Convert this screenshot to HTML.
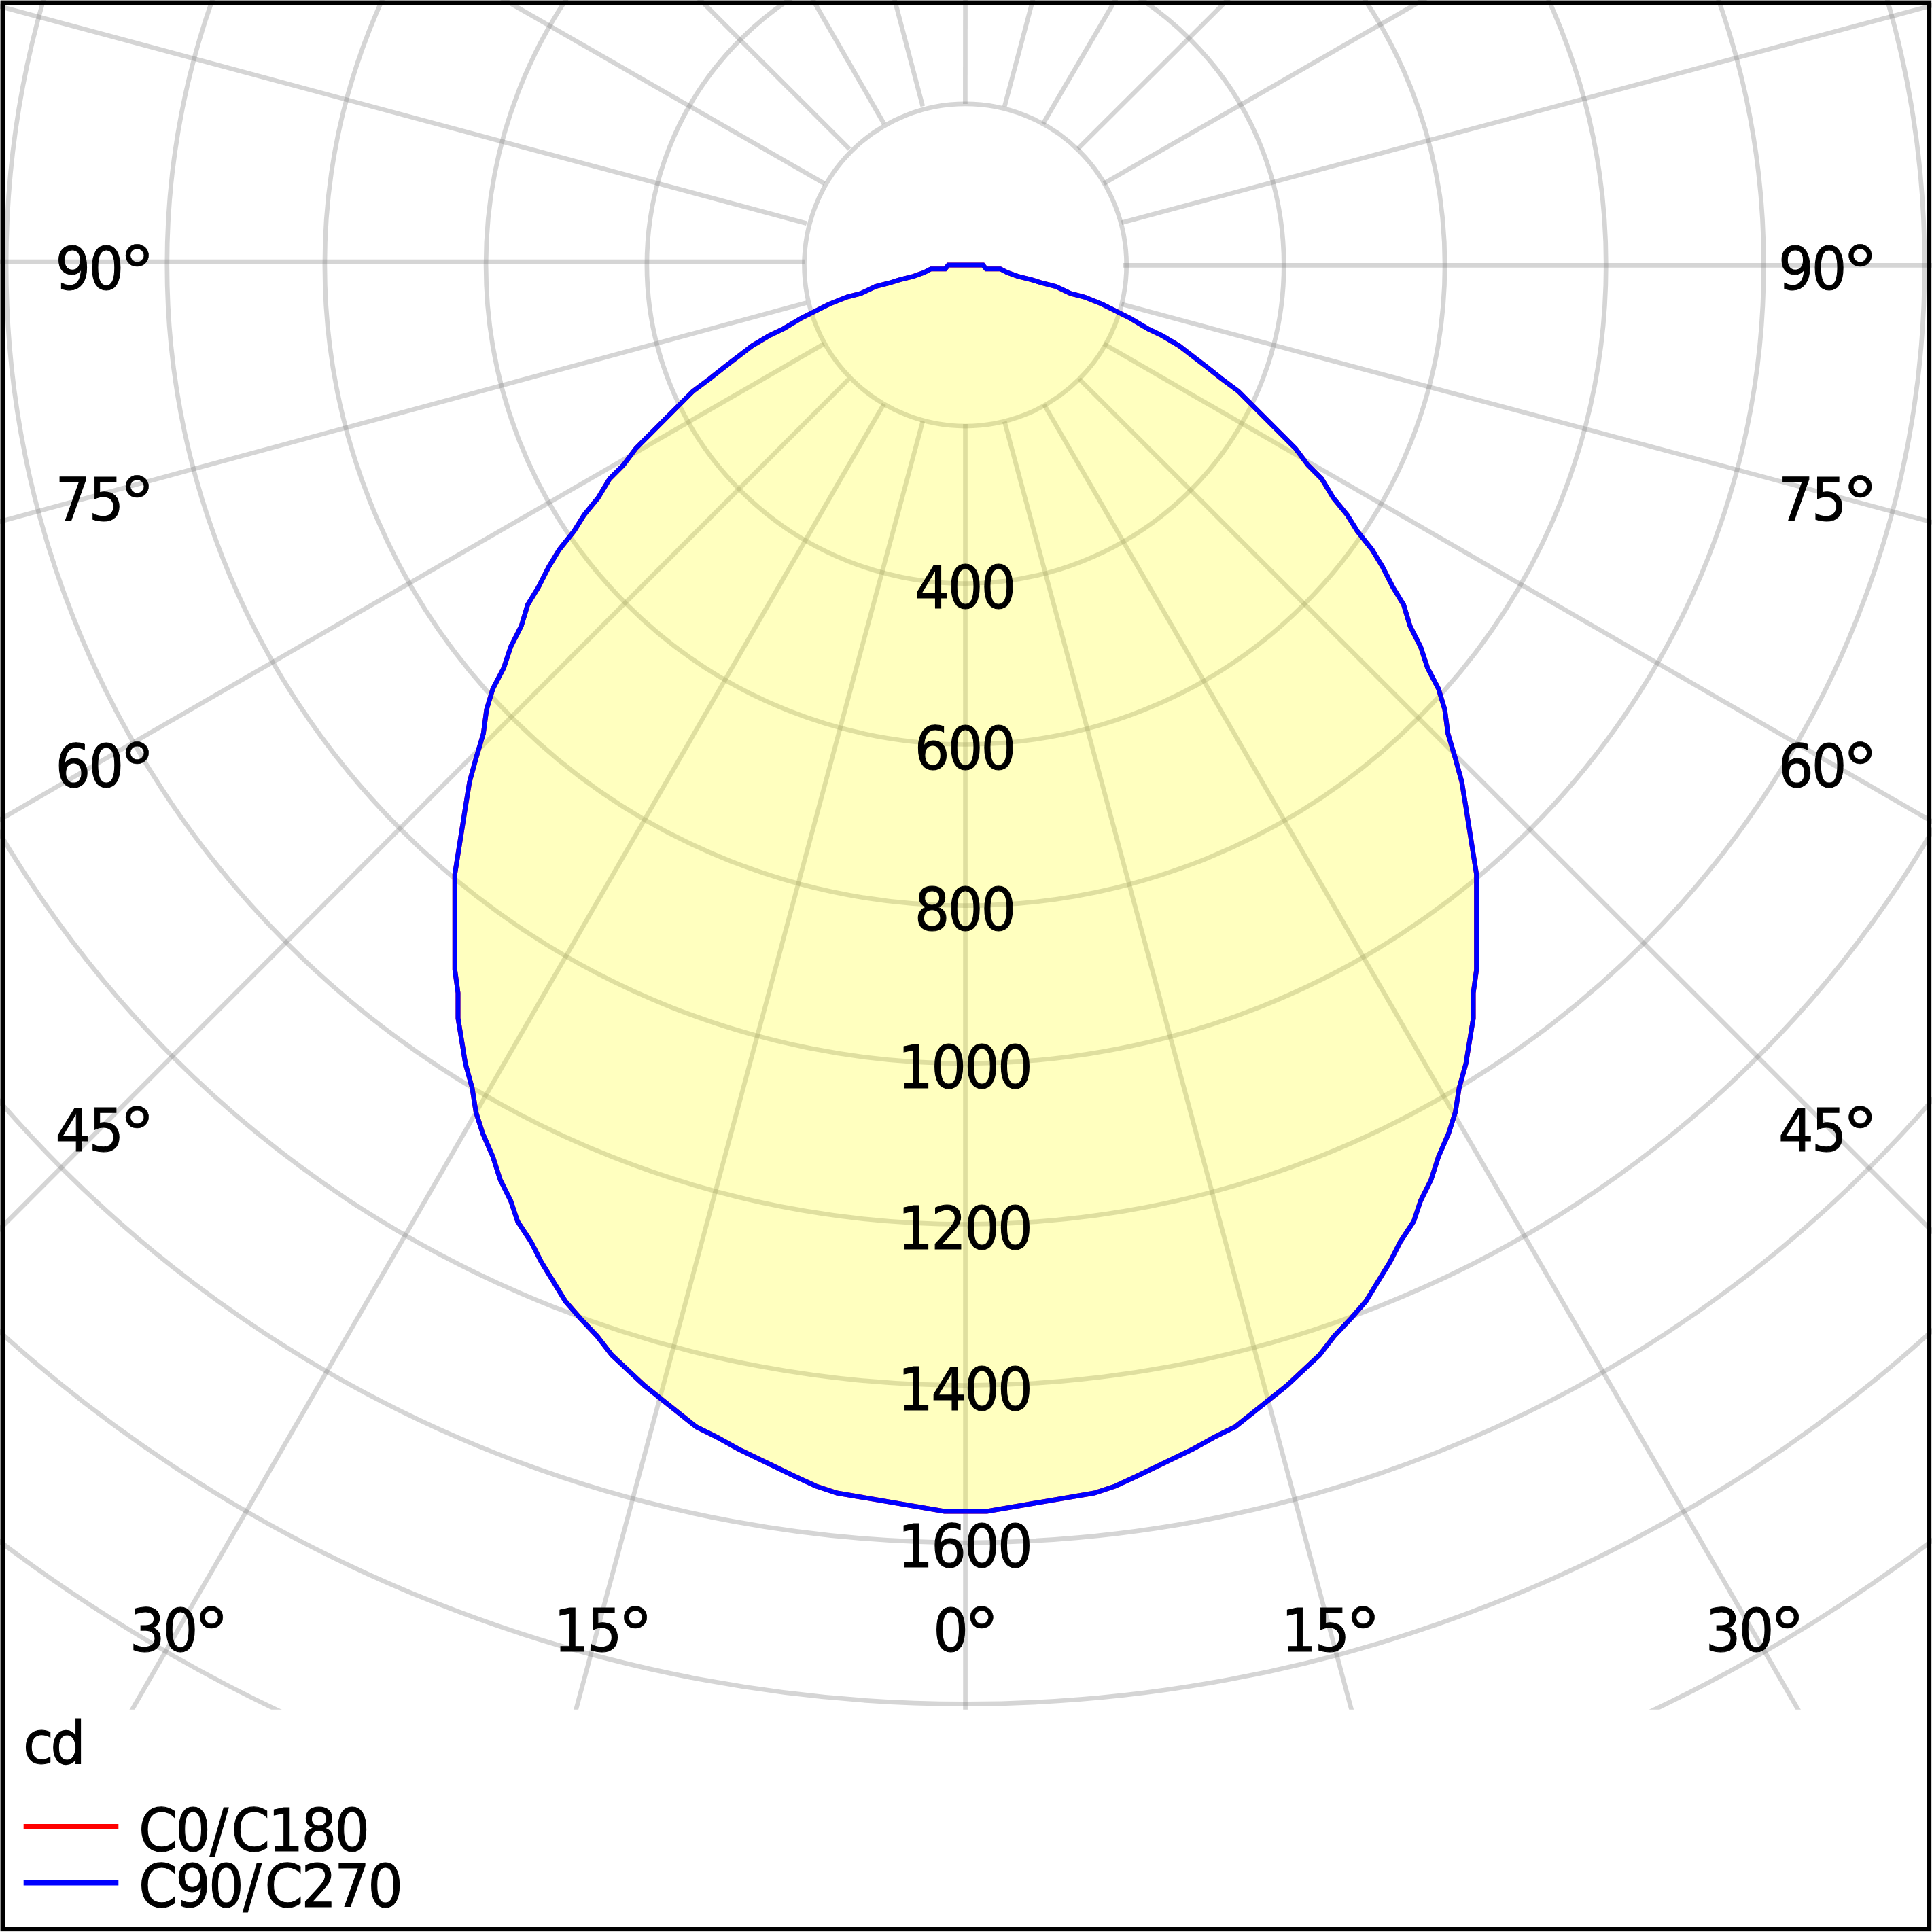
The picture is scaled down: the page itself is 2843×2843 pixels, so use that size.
<!DOCTYPE html>
<html lang="en"><head><meta charset="utf-8"><title>Polar luminous intensity diagram</title>
<style>html,body{margin:0;padding:0;background:#fff}svg{display:block}text{font-family:"DejaVu Sans Condensed","DejaVu Sans","Liberation Sans",sans-serif;font-stretch:condensed;font-size:87.6px;fill:#000;stroke:#000;stroke-width:1.1px}.d{font-family:"DejaVu Sans","Liberation Sans",sans-serif;font-stretch:normal;font-size:105.0px;stroke-width:0.5px}</style></head><body>
<svg width="2843" height="2843" viewBox="0 0 2843 2843">
<rect width="2843" height="2843" fill="#fff"/>
<defs><clipPath id="plot"><rect x="0" y="0" width="2843" height="2515.8"/></clipPath></defs>
<g clip-path="url(#plot)"><g fill="none" stroke="rgba(128,128,128,0.33)" stroke-width="6.7">
<circle cx="1420.6" cy="390.0" r="237.1"/>
<circle cx="1420.6" cy="390.0" r="468.7"/>
<circle cx="1420.6" cy="390.0" r="705.5"/>
<circle cx="1420.6" cy="390.0" r="942.7"/>
<circle cx="1420.6" cy="390.0" r="1174.8"/>
<circle cx="1420.6" cy="390.0" r="1411.5"/>
<circle cx="1420.6" cy="390.0" r="1648.6"/>
<circle cx="1420.6" cy="390.0" r="1880.0"/>
<circle cx="1420.6" cy="390.0" r="2117.4"/>
<circle cx="1420.6" cy="390.0" r="2355.2"/>
<circle cx="1420.6" cy="390.0" r="2590"/>
<line x1="1420.4" y1="152.9" x2="1422.6" y2="-2347.1"/>
<line x1="1478.2" y1="156.9" x2="2119.0" y2="-2259.6"/>
<line x1="1535.0" y1="182.0" x2="2795.4" y2="-1977.0"/>
<line x1="1586.1" y1="218.8" x2="3358.3" y2="-1544.5"/>
<line x1="1624.3" y1="270.0" x2="3791.6" y2="-976.2"/>
<line x1="1650.4" y1="327.8" x2="4065.2" y2="-319.5"/>
<line x1="1652.4" y1="390.4" x2="4152.4" y2="390.4"/>
<line x1="1650.4" y1="447.6" x2="4064.6" y2="1096.9"/>
<line x1="1624.3" y1="506.0" x2="3789.9" y2="1755.0"/>
<line x1="1588.0" y1="557.5" x2="3356.4" y2="2324.6"/>
<line x1="1536.3" y1="595.1" x2="2787.0" y2="2759.7"/>
<line x1="1478.2" y1="620.4" x2="2128.4" y2="3034.4"/>
<line x1="1420.5" y1="623.9" x2="1420.6" y2="3123.9"/>
<line x1="1357.8" y1="619.9" x2="708.1" y2="3034.0"/>
<line x1="1300.8" y1="594.3" x2="53.3" y2="2760.8"/>
<line x1="1248.8" y1="558.0" x2="-517.9" y2="2326.8"/>
<line x1="1212.5" y1="506.0" x2="-952.6" y2="1756.0"/>
<line x1="1186.9" y1="445.5" x2="-1225.9" y2="1100.0"/>
<line x1="1183.9" y1="385.2" x2="-1316.1" y2="385.2"/>
<line x1="1186.9" y1="328.7" x2="-1227.3" y2="-320.6"/>
<line x1="1213.0" y1="270.0" x2="-955.2" y2="-974.5"/>
<line x1="1250.2" y1="219.4" x2="-518.6" y2="-1547.4"/>
<line x1="1300.8" y1="182.0" x2="56.3" y2="-1986.3"/>
<line x1="1357.8" y1="156.4" x2="720.2" y2="-2260.9"/>
</g>
<polygon points="1446.6,390.1 1451.2,395.7 1472.0,395.7 1482.3,401.0 1497.8,406.6 1518.0,411.6 1533.5,416.5 1553.7,421.5 1575.5,432.0 1595.7,437.0 1622.0,447.6 1664.0,468.7 1688.8,483.6 1710.6,494.2 1735.4,509.0 1775.8,540.0 1797.5,557.2 1822.4,575.8 1906.2,659.7 1924.8,684.5 1945.0,704.7 1962.0,732.7 1982.3,757.5 1997.2,781.4 2019.0,808.7 2034.5,834.2 2050.0,864.6 2065.5,890.0 2074.8,921.0 2090.4,951.6 2100.6,982.6 2116.8,1013.7 2126.0,1044.0 2130.7,1079.5 2141.6,1116.0 2151.0,1150.3 2157.1,1187.6 2172.7,1286.5 2172.7,1427.0 2168.0,1461.2 2168.0,1498.4 2157.1,1565.2 2147.2,1601.0 2141.6,1636.6 2131.7,1667.7 2116.8,1701.9 2105.9,1736.0 2090.4,1767.1 2080.4,1797.2 2060.3,1827.8 2045.7,1856.5 2010.0,1914.9 1988.2,1939.8 1963.4,1966.1 1941.6,1994.1 1893.5,2039.1 1817.4,2099.7 1786.3,2115.2 1755.3,2132.3 1673.3,2172.0 1641.5,2186.7 1610.4,2197.0 1452.3,2223.9 1389.7,2223.9 1231.6,2197.0 1200.5,2186.7 1168.7,2172.0 1086.7,2132.3 1055.7,2115.2 1024.6,2099.7 948.5,2039.1 900.4,1994.1 878.6,1966.1 853.8,1939.8 832.0,1914.9 796.3,1856.5 781.7,1827.8 761.6,1797.2 751.6,1767.1 736.1,1736.0 725.2,1701.9 710.3,1667.7 700.4,1636.6 694.8,1601.0 684.9,1565.2 674.0,1498.4 674.0,1461.2 669.3,1427.0 669.3,1286.5 684.9,1187.6 691.0,1150.3 700.4,1116.0 711.3,1079.5 716.0,1044.0 725.2,1013.7 741.4,982.6 751.6,951.6 767.2,921.0 776.5,890.0 792.0,864.6 807.5,834.2 823.0,808.7 844.8,781.4 859.7,757.5 880.0,732.7 897.0,704.7 917.2,684.5 935.8,659.7 1019.6,575.8 1044.5,557.2 1066.2,540.0 1106.6,509.0 1131.4,494.2 1153.2,483.6 1178.0,468.7 1220.0,447.6 1246.3,437.0 1266.5,432.0 1288.3,421.5 1308.5,416.5 1324.0,411.6 1344.2,406.6 1359.7,401.0 1370.0,395.7 1390.8,395.7 1395.4,390.1" fill="rgba(255,255,0,0.25)"/>
<polygon points="1446.6,390.1 1451.2,395.7 1472.0,395.7 1482.3,401.0 1497.8,406.6 1518.0,411.6 1533.5,416.5 1553.7,421.5 1575.5,432.0 1595.7,437.0 1622.0,447.6 1664.0,468.7 1688.8,483.6 1710.6,494.2 1735.4,509.0 1775.8,540.0 1797.5,557.2 1822.4,575.8 1906.2,659.7 1924.8,684.5 1945.0,704.7 1962.0,732.7 1982.3,757.5 1997.2,781.4 2019.0,808.7 2034.5,834.2 2050.0,864.6 2065.5,890.0 2074.8,921.0 2090.4,951.6 2100.6,982.6 2116.8,1013.7 2126.0,1044.0 2130.7,1079.5 2141.6,1116.0 2151.0,1150.3 2157.1,1187.6 2172.7,1286.5 2172.7,1427.0 2168.0,1461.2 2168.0,1498.4 2157.1,1565.2 2147.2,1601.0 2141.6,1636.6 2131.7,1667.7 2116.8,1701.9 2105.9,1736.0 2090.4,1767.1 2080.4,1797.2 2060.3,1827.8 2045.7,1856.5 2010.0,1914.9 1988.2,1939.8 1963.4,1966.1 1941.6,1994.1 1893.5,2039.1 1817.4,2099.7 1786.3,2115.2 1755.3,2132.3 1673.3,2172.0 1641.5,2186.7 1610.4,2197.0 1452.3,2223.9 1389.7,2223.9 1231.6,2197.0 1200.5,2186.7 1168.7,2172.0 1086.7,2132.3 1055.7,2115.2 1024.6,2099.7 948.5,2039.1 900.4,1994.1 878.6,1966.1 853.8,1939.8 832.0,1914.9 796.3,1856.5 781.7,1827.8 761.6,1797.2 751.6,1767.1 736.1,1736.0 725.2,1701.9 710.3,1667.7 700.4,1636.6 694.8,1601.0 684.9,1565.2 674.0,1498.4 674.0,1461.2 669.3,1427.0 669.3,1286.5 684.9,1187.6 691.0,1150.3 700.4,1116.0 711.3,1079.5 716.0,1044.0 725.2,1013.7 741.4,982.6 751.6,951.6 767.2,921.0 776.5,890.0 792.0,864.6 807.5,834.2 823.0,808.7 844.8,781.4 859.7,757.5 880.0,732.7 897.0,704.7 917.2,684.5 935.8,659.7 1019.6,575.8 1044.5,557.2 1066.2,540.0 1106.6,509.0 1131.4,494.2 1153.2,483.6 1178.0,468.7 1220.0,447.6 1246.3,437.0 1266.5,432.0 1288.3,421.5 1308.5,416.5 1324.0,411.6 1344.2,406.6 1359.7,401.0 1370.0,395.7 1390.8,395.7 1395.4,390.1" fill="none" stroke="#f00" stroke-width="7" stroke-linejoin="miter"/>
<polygon points="1446.6,390.1 1451.2,395.7 1472.0,395.7 1482.3,401.0 1497.8,406.6 1518.0,411.6 1533.5,416.5 1553.7,421.5 1575.5,432.0 1595.7,437.0 1622.0,447.6 1664.0,468.7 1688.8,483.6 1710.6,494.2 1735.4,509.0 1775.8,540.0 1797.5,557.2 1822.4,575.8 1906.2,659.7 1924.8,684.5 1945.0,704.7 1962.0,732.7 1982.3,757.5 1997.2,781.4 2019.0,808.7 2034.5,834.2 2050.0,864.6 2065.5,890.0 2074.8,921.0 2090.4,951.6 2100.6,982.6 2116.8,1013.7 2126.0,1044.0 2130.7,1079.5 2141.6,1116.0 2151.0,1150.3 2157.1,1187.6 2172.7,1286.5 2172.7,1427.0 2168.0,1461.2 2168.0,1498.4 2157.1,1565.2 2147.2,1601.0 2141.6,1636.6 2131.7,1667.7 2116.8,1701.9 2105.9,1736.0 2090.4,1767.1 2080.4,1797.2 2060.3,1827.8 2045.7,1856.5 2010.0,1914.9 1988.2,1939.8 1963.4,1966.1 1941.6,1994.1 1893.5,2039.1 1817.4,2099.7 1786.3,2115.2 1755.3,2132.3 1673.3,2172.0 1641.5,2186.7 1610.4,2197.0 1452.3,2223.9 1389.7,2223.9 1231.6,2197.0 1200.5,2186.7 1168.7,2172.0 1086.7,2132.3 1055.7,2115.2 1024.6,2099.7 948.5,2039.1 900.4,1994.1 878.6,1966.1 853.8,1939.8 832.0,1914.9 796.3,1856.5 781.7,1827.8 761.6,1797.2 751.6,1767.1 736.1,1736.0 725.2,1701.9 710.3,1667.7 700.4,1636.6 694.8,1601.0 684.9,1565.2 674.0,1498.4 674.0,1461.2 669.3,1427.0 669.3,1286.5 684.9,1187.6 691.0,1150.3 700.4,1116.0 711.3,1079.5 716.0,1044.0 725.2,1013.7 741.4,982.6 751.6,951.6 767.2,921.0 776.5,890.0 792.0,864.6 807.5,834.2 823.0,808.7 844.8,781.4 859.7,757.5 880.0,732.7 897.0,704.7 917.2,684.5 935.8,659.7 1019.6,575.8 1044.5,557.2 1066.2,540.0 1106.6,509.0 1131.4,494.2 1153.2,483.6 1178.0,468.7 1220.0,447.6 1246.3,437.0 1266.5,432.0 1288.3,421.5 1308.5,416.5 1324.0,411.6 1344.2,406.6 1359.7,401.0 1370.0,395.7 1390.8,395.7 1395.4,390.1" fill="none" stroke="#00f" stroke-width="7" stroke-linejoin="miter"/>
</g>
<text transform="scale(1.033,1)" y="895.2" x="1302.8 1350.2 1397.5">400</text>
<text transform="scale(1.033,1)" y="1132.0" x="1302.8 1350.2 1397.5">600</text>
<text transform="scale(1.033,1)" y="1369.2" x="1302.8 1350.2 1397.5">800</text>
<text transform="scale(1.033,1)" y="1601.3" x="1279.1 1326.5 1373.8 1421.2">1000</text>
<text transform="scale(1.033,1)" y="1838.0" x="1279.1 1326.5 1373.8 1421.2">1200</text>
<text transform="scale(1.033,1)" y="2075.1" x="1279.1 1326.5 1373.8 1421.2">1400</text>
<text transform="scale(1.033,1)" y="2306.5" x="1279.1 1326.5 1373.8 1421.2">1600</text>
<text transform="scale(1.033,1)" y="426.3" x="79.0 126.3">90<tspan class="d" x="169.2" dy="12.0">°</tspan></text>
<text transform="scale(1.033,1)" y="426.3" x="2533.3 2580.6">90<tspan class="d" x="2623.6" dy="12.0">°</tspan></text>
<text transform="scale(1.033,1)" y="765.8" x="79.0 126.3">75<tspan class="d" x="169.2" dy="12.0">°</tspan></text>
<text transform="scale(1.033,1)" y="765.8" x="2533.3 2580.6">75<tspan class="d" x="2623.6" dy="12.0">°</tspan></text>
<text transform="scale(1.033,1)" y="1157.8" x="79.0 126.3">60<tspan class="d" x="169.2" dy="12.0">°</tspan></text>
<text transform="scale(1.033,1)" y="1157.8" x="2533.3 2580.6">60<tspan class="d" x="2623.6" dy="12.0">°</tspan></text>
<text transform="scale(1.033,1)" y="1693.6" x="79.0 126.3">45<tspan class="d" x="169.2" dy="12.0">°</tspan></text>
<text transform="scale(1.033,1)" y="1693.6" x="2533.3 2580.6">45<tspan class="d" x="2623.6" dy="12.0">°</tspan></text>
<text transform="scale(1.033,1)" y="2430" x="184.6 232.0">30<tspan class="d" x="274.9" dy="12.0">°</tspan></text>
<text transform="scale(1.033,1)" y="2430" x="788.9 836.2">15<tspan class="d" x="879.1" dy="12.0">°</tspan></text>
<text transform="scale(1.033,1)" y="2430" x="1329.4">0<tspan class="d" x="1372.3" dy="12.0">°</tspan></text>
<text transform="scale(1.033,1)" y="2430" x="1825.4 1872.7">15<tspan class="d" x="1915.6" dy="12.0">°</tspan></text>
<text transform="scale(1.033,1)" y="2430" x="2429.6 2477.0">30<tspan class="d" x="2519.9" dy="12.0">°</tspan></text>
<text transform="scale(1.033,1)" y="2595.2" x="32.8 71.9">cd</text>
<line x1="34.7" y1="2687.8" x2="174.3" y2="2687.8" stroke="#f00" stroke-width="7.6"/>
<line x1="34.7" y1="2770.7" x2="174.3" y2="2770.7" stroke="#00f" stroke-width="7.6"/>
<text transform="scale(1.033,1)" y="2723.8" x="197.6 249.9 299.0 329.3 382.0 429.3 476.6">C0/C180</text>
<text transform="scale(1.033,1)" y="2806.3" x="197.6 249.9 297.2 346.0 377.0 429.3 476.6 524.0">C90/C270</text>
<rect x="3.95" y="3.95" width="2834.85" height="2834.85" fill="none" stroke="#000" stroke-width="6.7"/>
</svg></body></html>
